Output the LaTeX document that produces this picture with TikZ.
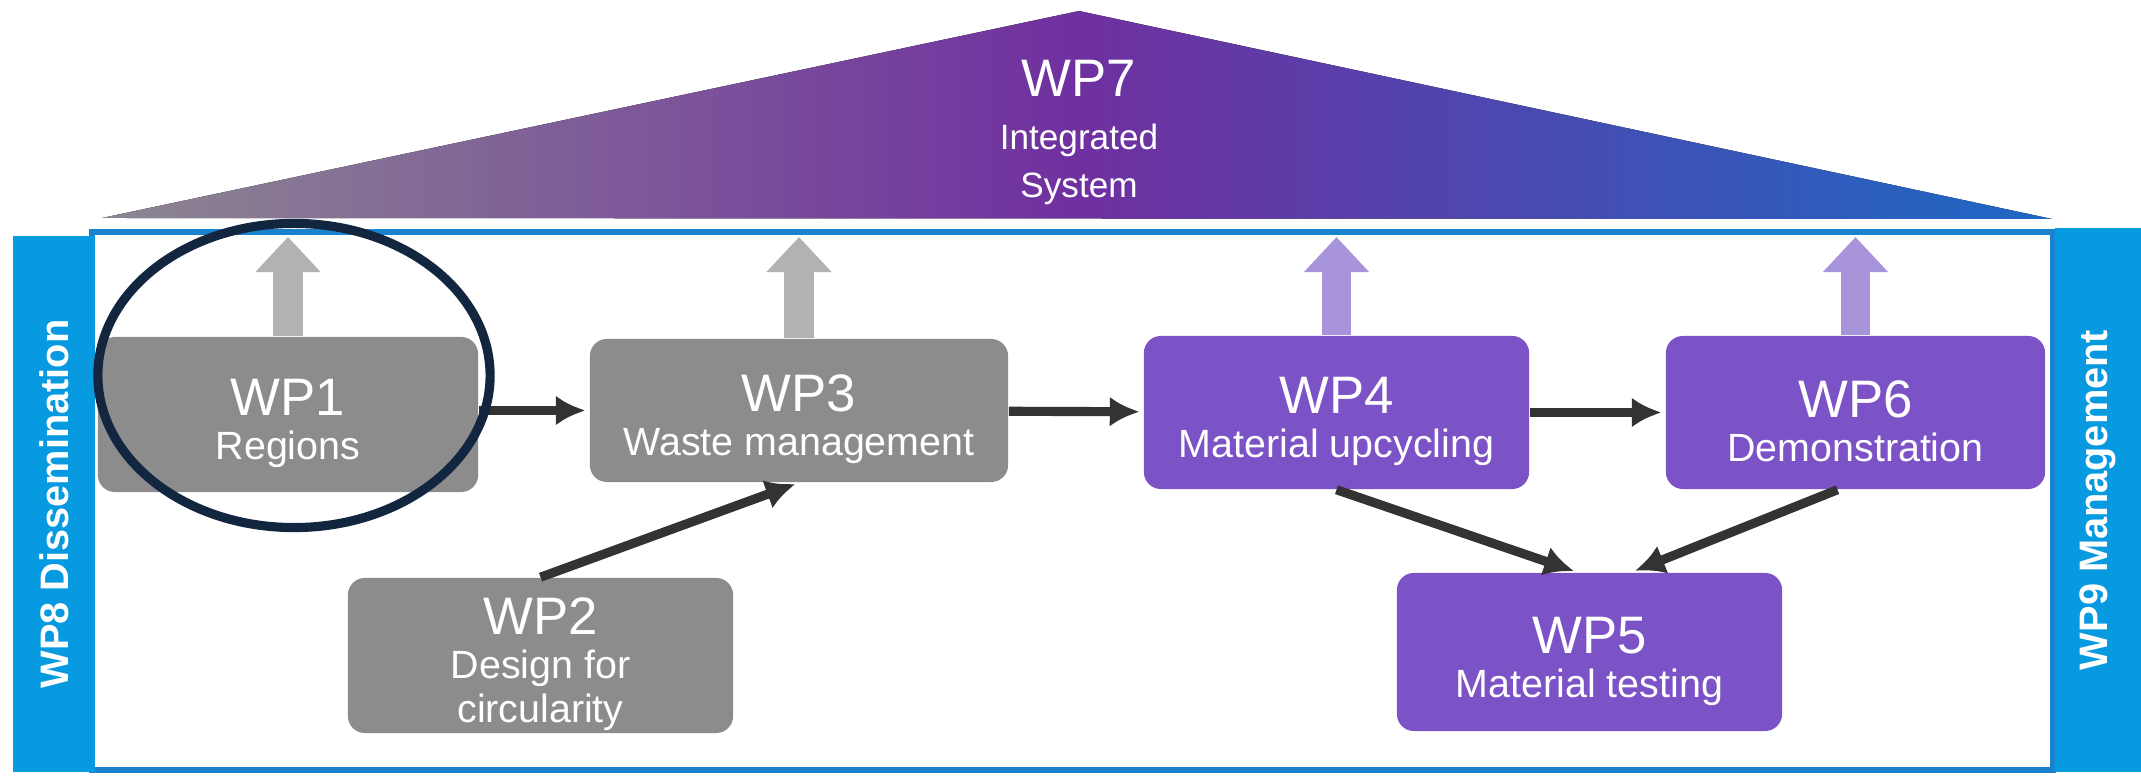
\documentclass[tikz,border=0pt]{standalone}
\usepackage{fontspec}
\setmainfont{Liberation Sans}
\usepackage{tikz}
\usetikzlibrary{arrows.meta}
\definecolor{boxgray}{RGB}{140,140,140}
\definecolor{boxpurple}{RGB}{124,82,199}
\definecolor{upgray}{RGB}{178,178,178}
\definecolor{uppurple}{RGB}{168,148,218}
\definecolor{barblue}{RGB}{8,154,224}
\definecolor{lineblue}{RGB}{24,130,205}
\definecolor{ringnavy}{RGB}{18,38,63}
\definecolor{flowdark}{RGB}{51,51,51}
\definecolor{triL}{RGB}{140,135,145}
\definecolor{triM}{RGB}{112,48,160}
\definecolor{triR}{RGB}{28,104,196}
\newcommand\wpname[1]{{\fontsize{15}{18}\selectfont\rule{0pt}{15.5pt}#1}}

\begin{document}
\begin{tikzpicture}[x=0.01cm,y=-0.01cm,
    wp/.style={rounded corners=0.17cm,text=white,align=center,inner sep=0pt,
      font=\fontsize{11.2}{12.5}\selectfont},
    wpgray/.style={wp,fill=boxgray},
    wppurple/.style={wp,fill=boxpurple},
    sidebar/.style={rotate=90,fill=barblue,text=white,inner sep=0pt,
      font=\fontsize{11.3}{13}\selectfont\bfseries},
    flow/.style={draw=flowdark,line width=2.6pt,shorten >=1pt,-{Latex[length=8.5pt,width=8.5pt]}},
    up/.style={line width=8.5pt,-{Triangle[length=10pt,width=18pt]}}]
  \useasboundingbox (0,0) rectangle (2141,777);
  \fill[left color=triL,right color=triR,middle color=triM] (102,218) -- (1079,11) -- (2052,219) -- cycle;
  \node[anchor=north,text=white,align=center,inner sep=0pt,font=\fontsize{10}{12.8}\selectfont]
    (wp7) at (1079,60) {{\fontsize{15}{18}\selectfont WP7}\\[2pt]Integrated\\[1pt]System};
  \draw[lineblue,line width=1.6pt] (92,232) rectangle (2053,770);
  \node[sidebar,minimum width=5.36cm,minimum height=0.82cm] (wp8) at (54,504) {WP8 Dissemination};
  \node[sidebar,minimum width=5.44cm,minimum height=0.86cm] (wp9) at (2098,500) {WP9 Management};
  \coordinate (topedge) at (0,237);

  \node[wpgray,minimum width=3.8cm,minimum height=1.55cm] (wp1) at (288,414.5) {\wpname{WP1}\\Regions};
  \node[wpgray,minimum width=4.18cm,minimum height=1.43cm] (wp3) at (799,410.5) {\wpname{WP3}\\Waste management};
  \node[wpgray,minimum width=3.85cm,minimum height=1.55cm] (wp2) at (540.5,655.5) {\wpname{WP2}\\Design for\\circularity};
  \node[wppurple,minimum width=3.85cm,minimum height=1.53cm] (wp4) at (1336.5,412.5) {\wpname{WP4}\\Material upcycling};
  \node[wppurple,minimum width=3.79cm,minimum height=1.53cm] (wp6) at (1855.5,412.5) {\wpname{WP6}\\Demonstration};
  \node[wppurple,minimum width=3.85cm,minimum height=1.58cm] (wp5) at (1589.5,652) {\wpname{WP5}\\Material testing};

  \draw[up,upgray] (wp1.north) -- (wp1.north |- topedge);
  \draw[up,upgray] (wp3.north) -- (wp3.north |- topedge);
  \draw[up,uppurple] (wp4.north) -- (wp4.north |- topedge);
  \draw[up,uppurple] (wp6.north) -- (wp6.north |- topedge);

  \draw[flow] (wp1.east |- wp3.west) -- (wp3.west);
  \draw[flow] (wp2.north) -- (wp3.south);
  \draw[flow] (wp3) -- (wp4);
  \draw[flow] (wp4) -- (wp6);
  \draw[flow] (wp4.south) -- ([xshift=-0.12cm]wp5.north);
  \draw[flow] ([xshift=-0.18cm]wp6.south) -- ([xshift=0.42cm]wp5.north);

  \draw[ringnavy,line width=2.6pt] (294,375.5) ellipse [x radius=1.96cm,y radius=1.52cm];
\end{tikzpicture}
\end{document}
